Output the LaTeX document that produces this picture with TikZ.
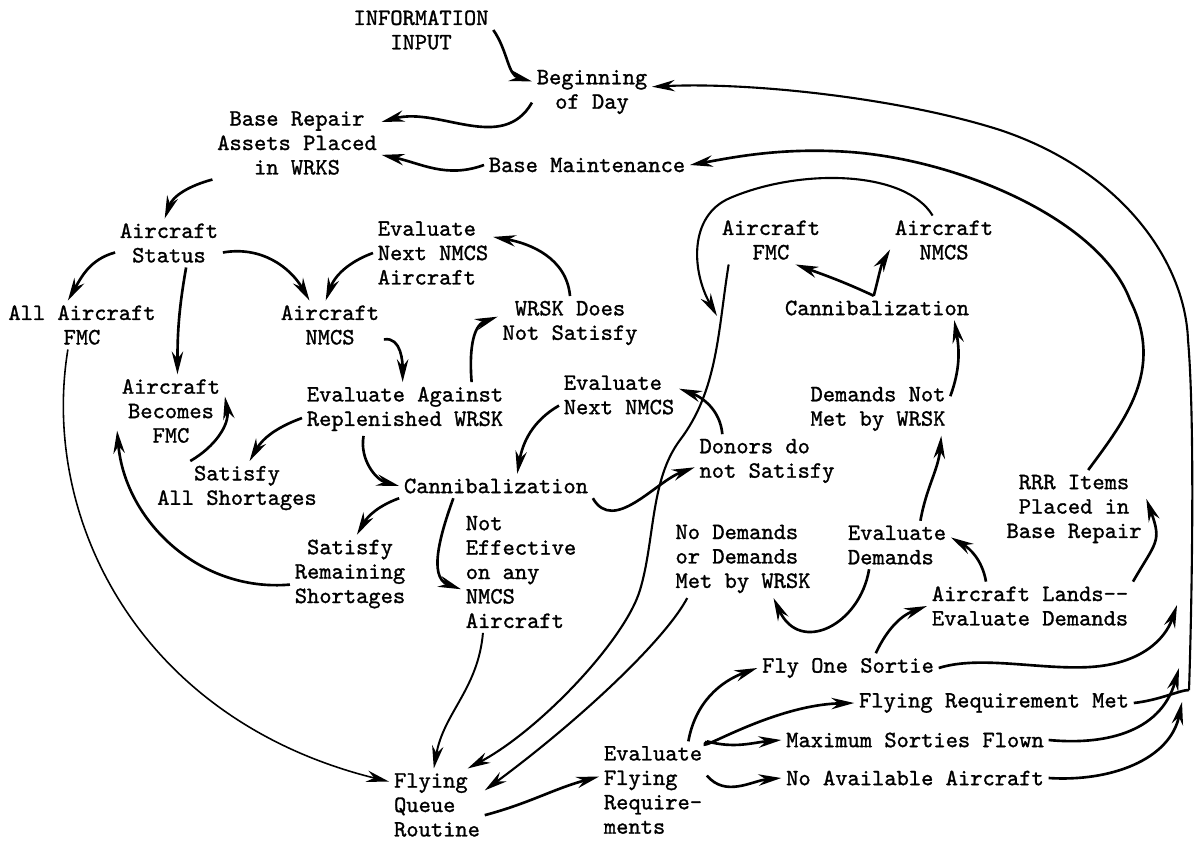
\documentclass[tikz,border=0pt]{standalone}
\usepackage{fontspec}
\usetikzlibrary{arrows.meta}
\newfontfamily\typefont{lmmono10-regular.otf}[FakeBold=1.2]

\begin{document}
\begin{tikzpicture}[x=0.02cm,y=-0.02cm,line width=1.5pt,
>={Stealth[length=13pt,width=6.5pt]},
lbl/.style={inner sep=2pt,align=center,font=\fontsize{13.3}{13.9}\selectfont\typefont},
lblleft/.style={lbl,align=left},
thinline/.style={line width=0.9pt}]

\useasboundingbox (0,0) rectangle (1195,841);

\draw (421,30) node[lbl] (Info) {INFORMATION\\INPUT};
\draw (592,92) node[lbl] (Begin) {Beginning\\of Day};
\draw (297,143) node[lbl] (BaseRep) {Base Repair\\Assets Placed\\in WRKS};
\draw (587,165) node[lbl] (BaseMaint) {Base Maintenance};
\draw (169,243) node[lbl] (Status) {Aircraft\\Status};
\draw (433,253) node[lblleft] (EvalNext) {Evaluate\\Next NMCS\\Aircraft};
\draw (82,325) node[lbl] (AllFMC) {All Aircraft\\FMC};
\draw (330,325) node[lbl] (AcNMCS) {Aircraft\\NMCS};
\draw (570,323) node[lbl] (WRSKNot) {WRSK Does\\Not Satisfy};
\draw (771,240) node[lbl] (AcFMC2) {Aircraft\\FMC};
\draw (944,240) node[lbl] (AcNMCS2) {Aircraft\\NMCS};
\draw (877,308) node[lbl] (Cann2) {Cannibalization};
\draw (171,411) node[lbl] (Becomes) {Aircraft\\Becomes\\FMC};
\draw (405,409) node[lbl] (EvalAgainst) {Evaluate Against\\Replenished WRSK};
\draw (619,395) node[lblleft] (EvalNext2) {Evaluate\\Next NMCS};
\draw (878,409) node[lbl] (DemNot) {Demands Not\\Met by WRSK};
\draw (237,488) node[lbl] (SatAll) {Satisfy\\All Shortages};
\draw (496,486) node[lbl] (Cann) {Cannibalization};
\draw (767,461) node[lblleft] (Donors) {Donors do\\not Satisfy};
\draw (1074,509) node[lbl] (RRR) {RRR Items\\Placed in\\Base Repair};
\draw (521,572) node[lblleft] (NotEff) {Not\\Effective\\on any\\NMCS\\Aircraft};
\draw (350,574) node[lbl] (SatRem) {Satisfy\\Remaining\\Shortages};
\draw (743,559) node[lblleft] (NoDem) {No Demands\\or Demands\\Met by WRSK};
\draw (897,545) node[lblleft] (EvalDem) {Evaluate\\Demands};
\draw (1030,606) node[lblleft] (Lands) {Aircraft Lands-{}-\\Evaluate Demands};
\draw (848,668) node[lbl] (FlyOne) {Fly One Sortie};
\draw (994,703) node[lbl] (FlyMet) {Flying Requirement Met};
\draw (915,740) node[lbl] (MaxSort) {Maximum Sorties Flown};
\draw (915,778) node[lbl] (NoAvail) {No Available Aircraft};
\draw (653,790) node[lblleft] (EvalFly) {Evaluate\\Flying\\Require-\\ments};
\draw (437,805) node[lblleft] (Queue) {Flying\\Queue\\Routine};

\coordinate (merge) at (717,316);
\coordinate (trunk) at (1189,690);
\coordinate (endA) at (1177,605);
\coordinate (endB) at (1179,668);
\coordinate (endC) at (1182,702);

% start of day
\draw[->] (Info.east) to[out=-55,in=165] (Begin.170);
\draw[->] (Begin.190) to[out=-120,in=15] (BaseRep.14);
\draw[->] (BaseMaint.west) to[out=200,in=-12] (BaseRep.-8);
\draw[->] (BaseRep.south west) to[out=195,in=70] (Status.100);

% aircraft status
\draw[->] (Status.190) to[out=195,in=60] (AllFMC.120);
\draw[->] (Status.-55) to[out=-100,in=90] (Becomes.80);
\draw[->] (Status.-10) to[out=10,in=120] (AcNMCS.130);
\draw[->] (EvalNext.west) to[out=200,in=70] (AcNMCS.100);
\draw[->] (WRSKNot.north) to[out=95,in=-10] (EvalNext.15);
\draw[->] (AcNMCS.-15) to[out=10,in=90] (EvalAgainst.95);
\draw[->] (EvalAgainst.22) to[out=95,in=200] (WRSKNot.175);
\draw[->] (EvalAgainst.185) to[out=200,in=60] (SatAll.65);
\draw[->] (SatAll.150) to[out=30,in=-80] (Becomes.15);
\draw[->] (EvalAgainst.-147) to[out=-100,in=165] (Cann.west);
\draw[->] (EvalNext2.190) to[out=210,in=80] (Cann.30);
\draw[->] (Cann.south west) to[out=200,in=60] (SatRem.80);
\draw[->] (SatRem.190) to[out=185,in=-85] (Becomes.200);
\draw[->] (Cann.-164) to[out=-110,in=160] (NotEff.-164);
\draw[->] (Cann.south east) to[out=-60,in=200] (Donors.185);
\draw[->] (Donors.149) to[out=95,in=-20] (EvalNext2.6);

% into the flying queue
\draw[->,thinline] (AllFMC.-120) .. controls (40,520) and (140,720) .. (Queue.154);
\draw[->,line width=1.1pt] (NotEff.-122) to[out=-95,in=80] (Queue.95);
\draw[->,line width=1.2pt] (AcFMC2.-150) .. controls (718,330) and (718,390) .. (680,440)
  .. controls (650,480) and (655,540) .. (640,590) .. controls (625,640) and (540,730) .. (Queue.50);
\draw[->,line width=1.2pt] (NoDem.-145) .. controls (665,640) and (580,720) .. (Queue.17);
\draw[->,line width=1.2pt] (AcNMCS2.115) .. controls (905,170) and (800,168) .. (730,198)
  .. controls (688,216) and (692,272) .. (merge);

% flying
\draw[->] (Queue.-12) to[out=15,in=195] (EvalFly.166);
\draw[->] (EvalFly.54) to[out=80,in=200] (FlyOne.west);
\draw[->] (EvalFly.north east) .. controls (690,758) and (770,705) .. (FlyMet.west);
\draw[->] (EvalFly.north east) to[out=-15,in=185] (MaxSort.west);
\draw[->] (EvalFly.15) to[out=-50,in=185] (NoAvail.west);
\draw[->] (FlyOne.28) to[out=65,in=200] (Lands.west);

% landing
\draw[->] (Lands.151) to[out=100,in=-30] (EvalDem.8);
\draw[->] (Lands.north east) to[out=60,in=-70,looseness=1.4] (RRR.8);
\draw[->] (EvalDem.46) to[out=80,in=-95] (DemNot.-23);
\draw[->] (EvalDem.-139) .. controls (860,625) and (800,655) .. (NoDem.-52);
\draw[->] (DemNot.10) to[out=70,in=-80] (Cann2.-9);
\draw[->] (Cann2.105) to[out=155,in=-20] (AcFMC2.-45);
\draw[->] (Cann2.105) to[out=75,in=-120] (AcNMCS2.190);

% end of day
\draw[->] (FlyOne.east) .. controls (980,655) and (1040,670) .. (1090,667)
  .. controls (1140,664) and (1165,640) .. (endA);
\draw (FlyMet.east) .. controls (1160,700) and (1180,690) .. (trunk);
\draw[->] (MaxSort.east) .. controls (1100,745) and (1160,735) .. (endB);
\draw[->] (NoAvail.east) .. controls (1110,782) and (1170,760) .. (endC);
\draw[->,line width=1.2pt] (trunk) .. controls (1192,600) and (1195,420) .. (1188,340)
  .. controls (1185,260) and (1120,170) .. (1000,130) .. controls (900,98) and (750,82) .. (Begin.5);
\draw[->] (RRR.70) .. controls (1125,420) and (1165,370) .. (1130,300)
  .. controls (1100,220) and (960,160) .. (850,152) .. controls (780,147) and (730,158) .. (BaseMaint.east);

\end{tikzpicture}
\end{document}
